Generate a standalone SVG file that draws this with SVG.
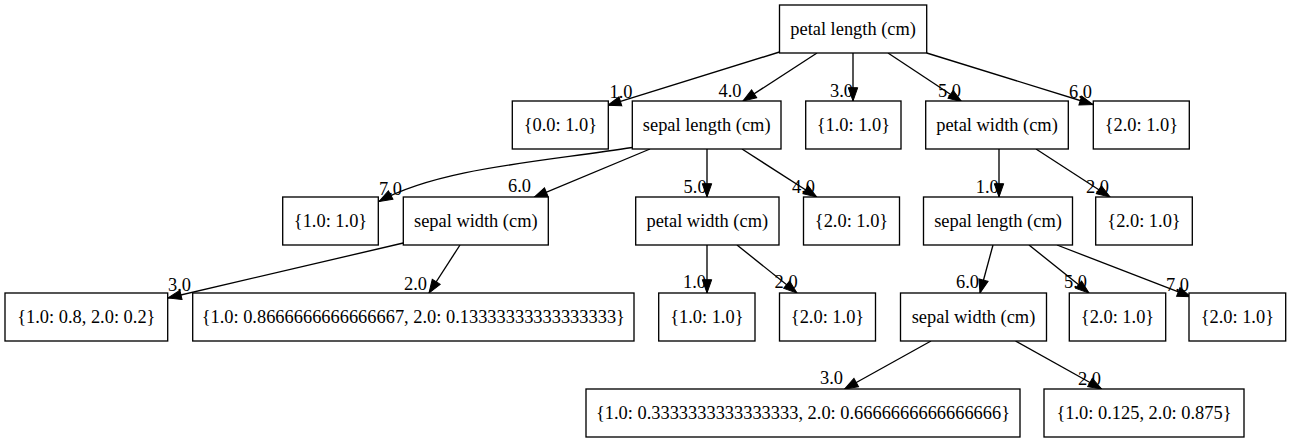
<svg xmlns="http://www.w3.org/2000/svg" width="1291" height="443" viewBox="0 0 1291 443">
<style>
.box{fill:#fff;stroke:#000;stroke-width:1.33}
.t{font-size:18.4px;fill:#000;text-anchor:middle}
.l{font-size:18.4px;fill:#000}
.e{fill:none;stroke:#000;stroke-width:1.33}
</style>
<defs>
<marker id="arr" markerUnits="userSpaceOnUse" markerWidth="16" markerHeight="12" refX="13.3" refY="0" viewBox="0 -6 16 12" orient="auto" overflow="visible">
<path d="M0,-4.7 L13.3,0 L0,4.7 Z" fill="#000" stroke="#000" stroke-width="1"/>
</marker>
</defs>
<rect width="1291" height="443" fill="#fff"/>
<g id="connectors">
<path class="e" marker-end="url(#arr)" d="M779.5,52 L607.7,105.3"/>
<path class="e" marker-end="url(#arr)" d="M817,53 L743,101"/>
<path class="e" marker-end="url(#arr)" d="M853,53 L853,101"/>
<path class="e" marker-end="url(#arr)" d="M888,53 L961.7,101.7"/>
<path class="e" marker-end="url(#arr)" d="M926.7,53 L1093,104.5"/>
<path class="e" marker-end="url(#arr)" d="M632.3,147.5 C540,162 440,168 379,201.5"/>
<path class="e" marker-end="url(#arr)" d="M650,149 L534,197.3"/>
<path class="e" marker-end="url(#arr)" d="M707,149 L707,197"/>
<path class="e" marker-end="url(#arr)" d="M742,149 L816.7,197"/>
<path class="e" marker-end="url(#arr)" d="M999,149 L999,197"/>
<path class="e" marker-end="url(#arr)" d="M1036,149 L1110,197"/>
<path class="e" marker-end="url(#arr)" d="M403.3,243 L168,298"/>
<path class="e" marker-end="url(#arr)" d="M460,245 L429,293"/>
<path class="e" marker-end="url(#arr)" d="M707,245 L707,293"/>
<path class="e" marker-end="url(#arr)" d="M737,245 L797,293"/>
<path class="e" marker-end="url(#arr)" d="M993,245 L980,293"/>
<path class="e" marker-end="url(#arr)" d="M1029,245 L1089,293"/>
<path class="e" marker-end="url(#arr)" d="M1057,245 L1190.7,296.7"/>
<path class="e" marker-end="url(#arr)" d="M931,341 L844.6,389"/>
<path class="e" marker-end="url(#arr)" d="M1015.5,341 L1101.6,389"/>
</g>
<g font-family="Liberation Serif, Times New Roman, DejaVu Serif, serif">
<g id="edge-labels">
<text class="l" x="609.5" y="98">1.0</text>
<text class="l" x="718.5" y="97">4.0</text>
<text class="l" x="830" y="96.5">3.0</text>
<text class="l" x="938" y="96.5">5.0</text>
<text class="l" x="1069" y="98">6.0</text>
<text class="l" x="379" y="195">7.0</text>
<text class="l" x="508" y="192">6.0</text>
<text class="l" x="683.6" y="193">5.0</text>
<text class="l" x="792" y="193">4.0</text>
<text class="l" x="975.7" y="193">1.0</text>
<text class="l" x="1086" y="193">2.0</text>
<text class="l" x="168" y="291">3.0</text>
<text class="l" x="404" y="290">2.0</text>
<text class="l" x="683" y="288">1.0</text>
<text class="l" x="774.6" y="288">2.0</text>
<text class="l" x="956" y="288">6.0</text>
<text class="l" x="1064" y="288.3">5.0</text>
<text class="l" x="1166" y="291">7.0</text>
<text class="l" x="820" y="384.3">3.0</text>
<text class="l" x="1078" y="385">2.0</text>
</g>
<g id="n0"><rect class="box" x="779.5" y="5" width="147.2" height="48"/><text class="t" x="853.1" y="34.5">petal length (cm)</text></g>
<g id="n1"><rect class="box" x="512.3" y="101" width="96" height="48"/><text class="t" x="560.3" y="130.5">{0.0: 1.0}</text></g>
<g id="n2"><rect class="box" x="632.3" y="101" width="148.7" height="48"/><text class="t" x="706.7" y="130.5">sepal length (cm)</text></g>
<g id="n3"><rect class="box" x="805.7" y="101" width="95.3" height="48"/><text class="t" x="853.3" y="130.5">{1.0: 1.0}</text></g>
<g id="n4"><rect class="box" x="925.7" y="101" width="142.6" height="48"/><text class="t" x="997" y="130.5">petal width (cm)</text></g>
<g id="n5"><rect class="box" x="1093.3" y="101" width="96" height="48"/><text class="t" x="1141.3" y="130.5">{2.0: 1.0}</text></g>
<g id="n6"><rect class="box" x="282.7" y="197" width="95.6" height="48"/><text class="t" x="330.5" y="226.5">{1.0: 1.0}</text></g>
<g id="n7"><rect class="box" x="403.3" y="197" width="145" height="48"/><text class="t" x="475.8" y="226.5">sepal width (cm)</text></g>
<g id="n8"><rect class="box" x="635.7" y="197" width="143.3" height="48"/><text class="t" x="707.3" y="226.5">petal width (cm)</text></g>
<g id="n9"><rect class="box" x="803.5" y="197" width="96" height="48"/><text class="t" x="851.5" y="226.5">{2.0: 1.0}</text></g>
<g id="n10"><rect class="box" x="923.5" y="197" width="149" height="48"/><text class="t" x="998" y="226.5">sepal length (cm)</text></g>
<g id="n11"><rect class="box" x="1095.7" y="197" width="96.6" height="48"/><text class="t" x="1144" y="226.5">{2.0: 1.0}</text></g>
<g id="n12"><rect class="box" x="5" y="293" width="162.7" height="48"/><text class="t" x="86.3" y="322.5">{1.0: 0.8, 2.0: 0.2}</text></g>
<g id="n13"><rect class="box" x="192.7" y="293" width="441.3" height="48"/><text class="t" x="413.3" y="322.5">{1.0: 0.8666666666666667, 2.0: 0.13333333333333333}</text></g>
<g id="n14"><rect class="box" x="658.7" y="293" width="96.3" height="48"/><text class="t" x="706.8" y="322.5">{1.0: 1.0}</text></g>
<g id="n15"><rect class="box" x="779.5" y="293" width="96" height="48"/><text class="t" x="827.5" y="322.5">{2.0: 1.0}</text></g>
<g id="n16"><rect class="box" x="900.5" y="293" width="146" height="48"/><text class="t" x="973.5" y="322.5">sepal width (cm)</text></g>
<g id="n17"><rect class="box" x="1069.3" y="293" width="96.4" height="48"/><text class="t" x="1117.5" y="322.5">{2.0: 1.0}</text></g>
<g id="n18"><rect class="box" x="1189" y="293" width="96.7" height="48"/><text class="t" x="1237.3" y="322.5">{2.0: 1.0}</text></g>
<g id="n19"><rect class="box" x="586" y="389" width="434" height="48"/><text class="t" x="803" y="418.5">{1.0: 0.3333333333333333, 2.0: 0.6666666666666666}</text></g>
<g id="n20"><rect class="box" x="1044" y="389" width="200" height="48"/><text class="t" x="1144" y="418.5">{1.0: 0.125, 2.0: 0.875}</text></g>
</g>
</svg>
